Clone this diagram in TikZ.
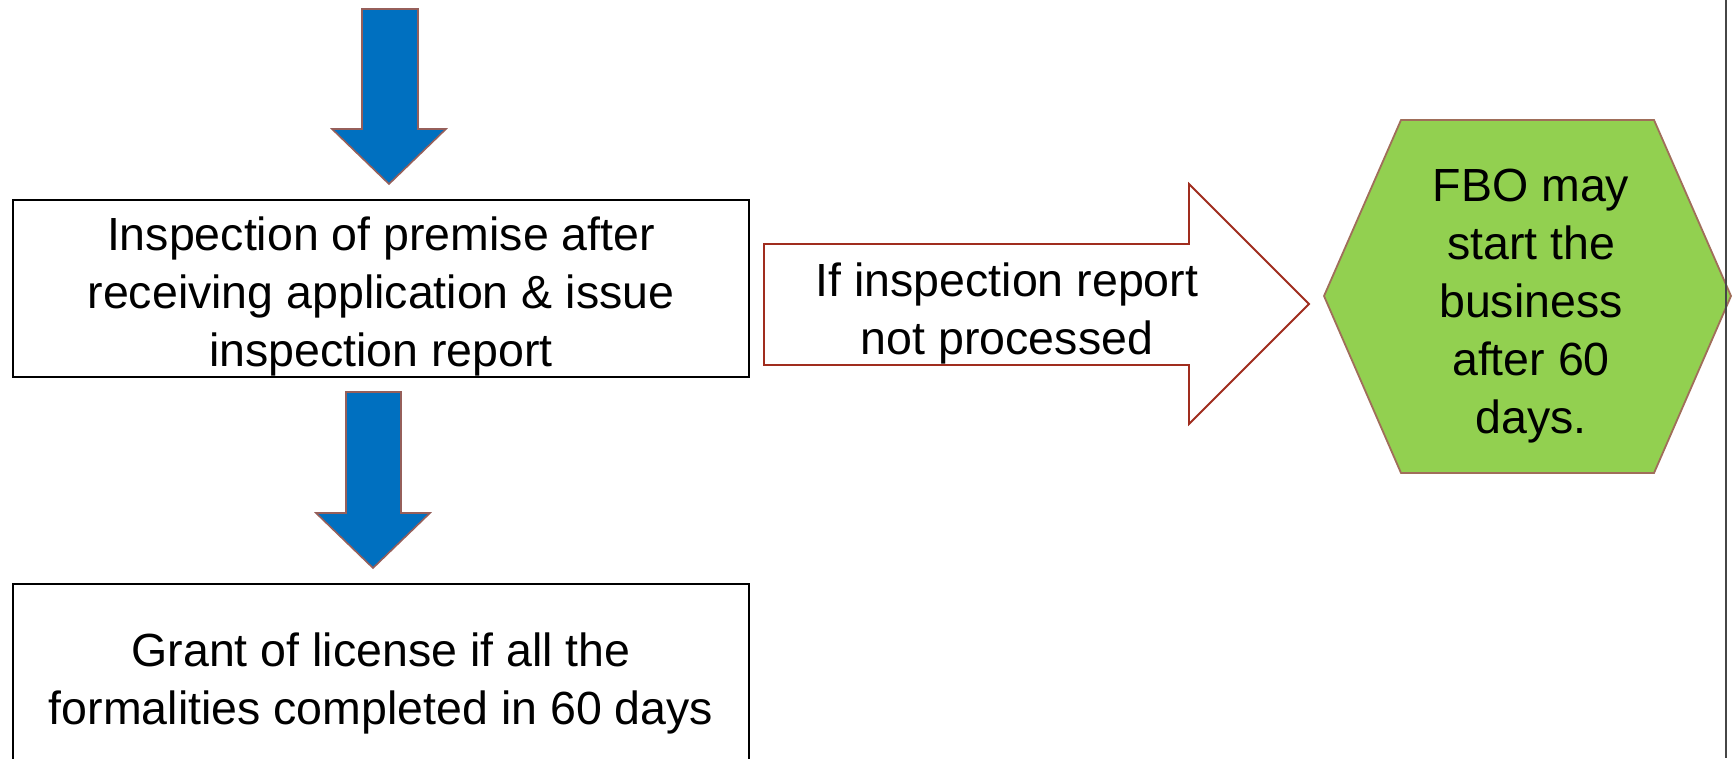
\documentclass[tikz,border=0pt]{standalone}
\usepackage{fontspec}
\setmainfont{Liberation Sans}
\definecolor{flowblue}{RGB}{0,112,192}
\definecolor{flowedge}{RGB}{150,95,90}
\definecolor{hexgreen}{RGB}{146,208,80}
\definecolor{hexedge}{RGB}{160,110,90}
\definecolor{rededge}{RGB}{160,45,30}
\definecolor{rulegray}{RGB}{70,70,70}
\tikzset{
  stepbox/.style={draw=black, line width=2pt, fill=white, inner sep=0pt},
  downarrow/.style={fill=flowblue, draw=flowedge, line width=1.6pt, line join=miter},
  sidearrow/.style={fill=white, draw=rededge, line width=1.8pt, line join=miter},
  hexshape/.style={fill=hexgreen, draw=hexedge, line width=1.8pt, line join=miter},
  label/.style={align=center, inner sep=0pt, font=\fontsize{46.5}{58}\selectfont}
}
\begin{document}
\begin{tikzpicture}[x=1pt,y=-1pt]
\clip (0,0) rectangle (1732,758);
\fill[white] (0,0) rectangle (1732,758);

% incoming block arrow at the top
\draw[downarrow] (362,9) -- (418,9) -- (418,129) -- (446,129) -- (389,184)
  -- (332,129) -- (362,129) -- cycle;

% inspection step
\node[stepbox, minimum width=736pt, minimum height=177pt] (inspect) at (381,288.5) {};
\node[label] (inspecttext) at ([yshift=-8pt]inspect.center)
  {Inspection of premise after\\receiving application \& issue\\inspection report};

% block arrow down to the licence step
\draw[downarrow] (346,392) -- (401,392) -- (401,513) -- (430,513) -- (373,568)
  -- (316,513) -- (346,513) -- cycle;

% licence step (runs past the lower edge)
\node[stepbox, minimum width=736pt, minimum height=186pt] (grant) at (381,677) {};
\node[label] (granttext) at ([yshift=-6pt]grant.center)
  {Grant of license if all the\\formalities completed in 60 days};

% block arrow to the right
\draw[sidearrow] (764,244) -- (1189,244) -- (1189,184) -- (1309,304) -- (1189,424)
  -- (1189,365) -- (764,365) -- cycle;
\node[label] (cond) at (1007,313) {If inspection report\\not processed};

% outcome hexagon
\draw[hexshape] (1401,120) -- (1654,120) -- (1731,296) -- (1654,473) -- (1401,473)
  -- (1324,296) -- cycle;
\node[label] (start) at (1531,306)
  {FBO may\\start the\\business\\after 60\\days.};

% rule along the right edge
\coordinate (ruletop) at (1726,0);
\coordinate (rulebot) at (1726,758);
\draw[rulegray, line width=2pt] (ruletop) -- (rulebot);
\end{tikzpicture}
\end{document}
